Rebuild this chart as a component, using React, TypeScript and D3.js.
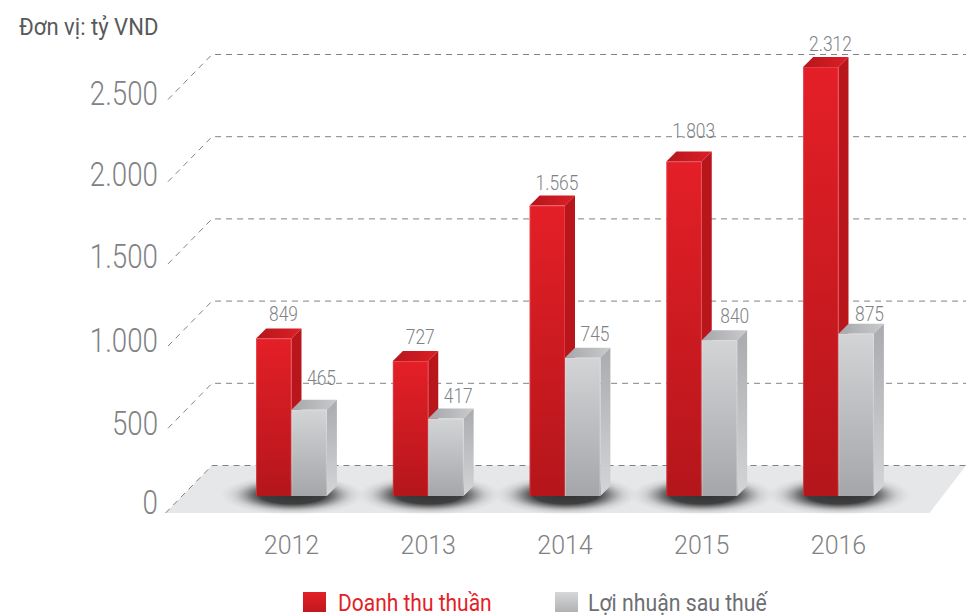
import React from "react";
import * as d3 from "d3";

const years = ["2012", "2013", "2014", "2015", "2016"];
const revenue = [849, 727, 1565, 1803, 2312];
const profit = [465, 417, 745, 840, 875];
const ticks = [0, 500, 1000, 1500, 2000, 2500];
const tickLabels = ["0", "500", "1.000", "1.500", "2.000", "2.500"];
const revenueLabels = ["849", "727", "1.565", "1.803", "2.312"];
const profitLabels = ["465", "417", "745", "840", "875"];
const seriesNames = ["Doanh thu thuần", "Lợi nhuận sau thuế"];

const W = 966, H = 616;
const FONT = "Roboto, 'Open Sans', sans-serif";
const barW = 35.4, depthX = 10, depthY = 10;
const baseY = 496;
const yBar = d3.scaleLinear().domain([0, 2312]).range([baseY, 67]);
const yGrid = d3.scaleLinear().domain([0, 2500]).range([465.5, 54.5]);
const x = d3.scalePoint<string>().domain(years).range([291.5, 838.5]);
const gridX0 = 212, gridX1 = 966, diagDx = 44, diagDy = 45;

const tickTextY = [514, 435, 352, 268, 186, 105];
const revenueLabelNudge = [1, 1, 2, -5, 2];
const profitLabelNudge = [-7, 2, 1, 1, 5];
const profitLabelShift = [-1, -1, -1, 2, 0];

function T({ x: tx, y, size, sx = 0.85, anchor = "middle", fill, weight = 300, children }: any) {
  return (
    <text transform={`translate(${tx},${y}) scale(${sx},1)`} textAnchor={anchor} fontFamily={FONT}
      fontSize={size} fontWeight={weight} fill={fill}>{children}</text>
  );
}

function Box({ x0, top, front, side, topFace, edge }: any) {
  const x1 = x0 + barW;
  return (
    <g>
      <path d={`M${x0},${top}L${x0 + depthX},${top - depthY}L${x1 + depthX},${top - depthY}L${x1},${top}Z`} fill={topFace} />
      <path d={`M${x1},${top}L${x1 + depthX},${top - depthY}L${x1 + depthX},${baseY - depthY}L${x1},${baseY}Z`} fill={side} />
      <rect x={x0} y={top} width={barW} height={baseY - top} fill={front} />
      <path d={`M${x0 + 0.5},${baseY}V${top + 0.5}H${x1 - 0.5}V${baseY}`} fill="none" stroke={edge} strokeWidth={0.8} strokeOpacity={0.4} />
    </g>
  );
}

export default function App() {
  return (
    <svg width={W} height={H} viewBox={`0 0 ${W} ${H}`} style={{ position: "absolute", left: 0, top: 0 }}>
      <defs>
        <linearGradient id="rf" x1="0" y1="0" x2="0" y2="1">
          <stop offset="0" stopColor="#e41f27" /><stop offset="1" stopColor="#b4161b" />
        </linearGradient>
        <linearGradient id="rt" x1="0" y1="0" x2="1" y2="0">
          <stop offset="0" stopColor="#b5161c" /><stop offset="1" stopColor="#dc1f27" />
        </linearGradient>
        <linearGradient id="gf" x1="0" y1="0" x2="0" y2="1">
          <stop offset="0" stopColor="#d3d4d6" /><stop offset="1" stopColor="#a4a6a9" />
        </linearGradient>
        <linearGradient id="gs" x1="0" y1="0" x2="0" y2="1">
          <stop offset="0" stopColor="#a9abae" /><stop offset="1" stopColor="#d4d5d7" />
        </linearGradient>
        <linearGradient id="gt" x1="0" y1="0" x2="1" y2="0">
          <stop offset="0" stopColor="#a5a7aa" /><stop offset="1" stopColor="#c9cacc" />
        </linearGradient>
        <linearGradient id="lr" x1="0" y1="0" x2="0" y2="1">
          <stop offset="0" stopColor="#e41f27" /><stop offset="1" stopColor="#c0181e" />
        </linearGradient>
        <linearGradient id="lg" x1="0" y1="0" x2="0" y2="1">
          <stop offset="0" stopColor="#d6d7d9" /><stop offset="1" stopColor="#b0b2b4" />
        </linearGradient>
        <radialGradient id="sh">
          <stop offset="0" stopColor="#333333" />
          <stop offset="0.45" stopColor="#3f3f3f" />
          <stop offset="0.6" stopColor="#58595b" stopOpacity={0.7} />
          <stop offset="0.8" stopColor="#939598" stopOpacity={0.28} />
          <stop offset="1" stopColor="#bcbec0" stopOpacity={0} />
        </radialGradient>
      </defs>

      <T x={19} y={35} size={24} sx={0.92} anchor="start" fill="#58595b" weight={400}>Đơn vị: tỷ VND</T>

      <path d={`M${gridX0},${yGrid(0)}H${gridX1}L929.5,513H165.5Z`} fill="#e6e7e8" />

      {ticks.map((t, i) => {
        const y = yGrid(t);
        const dy = i === 0 ? 47.5 : diagDy;
        const dx = i === 0 ? 46.5 : diagDx;
        return (
          <g key={t}>
            <path d={`M${gridX0 - dx},${y + dy}L${gridX0},${y}H${gridX1}`} fill="none" stroke="#808285"
              strokeWidth={1} strokeDasharray="6 5" />
            <T x={158} y={tickTextY[i]} size={33} sx={0.84} anchor="end" fill="#808285">{tickLabels[i]}</T>
          </g>
        );
      })}

      {years.map((yr) => (
        <ellipse key={yr} cx={(x(yr) as number) + 1} cy={495} rx={72} ry={20} fill="url(#sh)" />
      ))}

      {years.map((yr, i) => {
        const c = x(yr) as number;
        return (
          <g key={yr}>
            <Box x0={c - barW} top={yBar(revenue[i])} front="url(#rf)" side="#b9161c" topFace="url(#rt)" edge="#f27c80" />
            <Box x0={c} top={yBar(profit[i])} front="url(#gf)" side="url(#gs)" topFace="url(#gt)" edge="#e8e9ea" />
            <T x={c - 8} y={yBar(revenue[i]) - 18 + revenueLabelNudge[i]} size={20} sx={0.87} fill="#808285">{revenueLabels[i]}</T>
            <T x={c + 31 + profitLabelShift[i]} y={yBar(profit[i]) - 18 + profitLabelNudge[i]} size={20} sx={0.87} fill="#808285">{profitLabels[i]}</T>
            <T x={c} y={554} size={26} sx={0.96} fill="#808285">{yr}</T>
          </g>
        );
      })}

      <rect x={303} y={592} width={23} height={20} fill="url(#lr)" />
      <T x={338} y={611} size={24} sx={0.875} anchor="start" fill="#e31e26" weight={400}>{seriesNames[0]}</T>
      <rect x={555} y={592} width={23} height={20} fill="url(#lg)" />
      <T x={588} y={611} size={24} sx={0.885} anchor="start" fill="#6d6e71" weight={400}>{seriesNames[1]}</T>
    </svg>
  );
}
